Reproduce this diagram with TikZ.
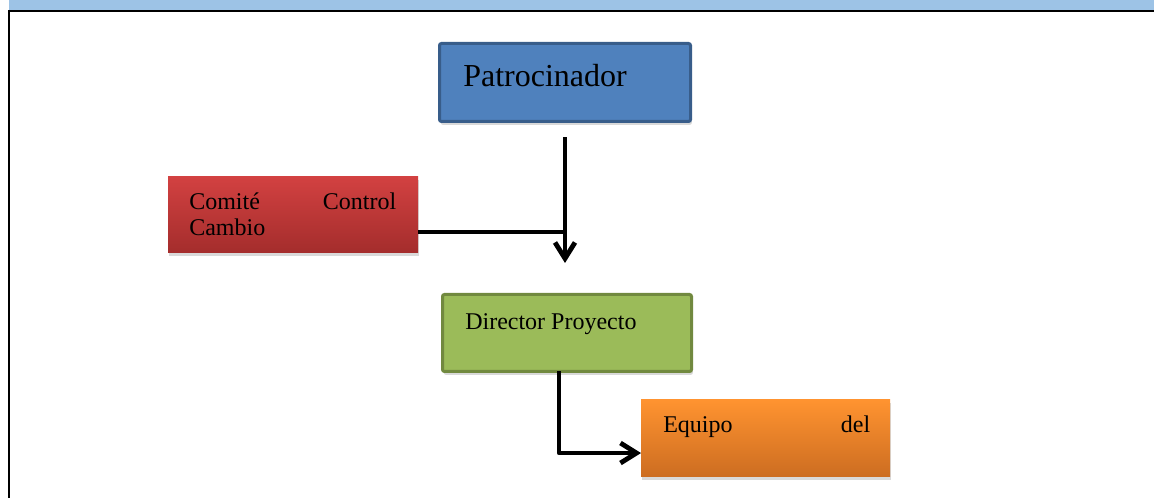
\documentclass[tikz,border=0pt]{standalone}
\usepackage{fontspec}
\setmainfont{Liberation Serif}
\usepackage{tikz}
\usetikzlibrary{positioning, arrows.meta, shadows}
\definecolor{bandblue}{HTML}{9DC3E6}
\definecolor{patfill}{HTML}{4F81BD}
\definecolor{patline}{HTML}{385D8A}
\definecolor{dirfill}{HTML}{9BBB59}
\definecolor{dirline}{HTML}{71893F}
\definecolor{comtop}{HTML}{D24141}
\definecolor{combot}{HTML}{A42D2C}
\definecolor{equtop}{HTML}{FF9330}
\definecolor{equbot}{HTML}{CC6D21}

\begin{document}
\begin{tikzpicture}[x=0.75pt,y=0.75pt,yscale=-1,xscale=1,
                    every node/.style={font=\fontsize{18}{19.5}\selectfont},
                    plainbox/.style={rectangle, anchor=north west, inner sep=0pt, outer sep=0pt,
                      drop shadow={opacity=0.3, shadow xshift=1pt, shadow yshift=-2.5pt}},
                    ruledbox/.style={plainbox, line width=2.25pt, rounded corners=1.5pt},
                    lbl/.style={inner sep=0pt, anchor=base west},
                    conn/.style={line width=3.6pt, line join=round},
                    headarrow/.style={-{Straight Barb[length=12pt,width=15pt]}}]
\useasboundingbox (0,0) rectangle (1154,498);

%Shape: Band
\fill[bandblue] (9,0) rectangle (1154,11);
%Straight Lines
\draw[line width=1.6pt] (8,11) -- (1154,11);
\draw[line width=1.6pt] (8.7,10) -- (8.7,498);

%Shape: Rectangle
\node[ruledbox, draw=patline, fill=patfill, minimum width=188.25pt, minimum height=58.5pt] (pat) at (439.5,43.5) {};
%Shape: Rectangle
\node[plainbox, top color=comtop, bottom color=combot, minimum width=187.5pt, minimum height=57pt] (com) at (168,177) {};
%Shape: Rectangle
\node[ruledbox, draw=dirline, fill=dirfill, minimum width=186.75pt, minimum height=57.75pt] (dir) at (442.5,294.5) {};
%Shape: Rectangle
\node[plainbox, top color=equtop, bottom color=equbot, minimum width=186.75pt, minimum height=57.75pt] (equ) at (641,400) {};

% Text Node
\node[lbl, font=\fontsize{24}{28}\selectfont] (patT) at (463,87) {Patrocinador};
% Text Node
\node[lbl, text width=155.25pt, align=left] (comT) at (189,210) {Comité\hfill Control\\Cambio};
% Text Node
\node[lbl] (dirT) at (465,330) {Director Proyecto};
% Text Node
\node[lbl, text width=155.25pt, align=left] (equT) at (663,433) {Equipo\hfill del};

%Straight Lines
\coordinate (meet) at (565,232);
\coordinate (arrowend) at (565,263);
\draw[conn, headarrow] ([yshift=12pt]pat.south) -- (arrowend);
\draw[conn] (com.east |- meet) -- (meet);
\draw[conn, headarrow] ([xshift=-6pt]dir.south) |- ([yshift=10.9pt]equ.west);

\end{tikzpicture}
\end{document}
